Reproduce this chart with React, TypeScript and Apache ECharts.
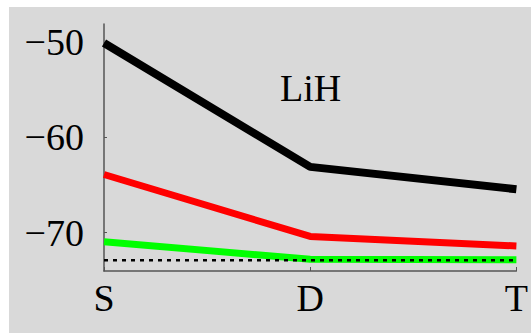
import React, { useEffect, useRef } from "react";
import * as echarts from "echarts";

const categories = ["S", "D", "T"];
const blackSeries = [-50.1, -63.1, -65.45];
const redSeries = [-63.9, -70.4, -71.4];
const greenSeries = [-70.95, -72.8, -72.85];
const dottedSeries = [-72.9, -72.9, -72.9];
const yTicks = [-70, -60, -50];
const label = "LiH";

const FONT = "'Liberation Serif', serif";

export default function App() {
  const ref = useRef<HTMLDivElement>(null);
  useEffect(() => {
    if (!ref.current) return;
    const chart = echarts.init(ref.current, undefined, { renderer: "svg" });
    chart.setOption({
      animation: false,
      backgroundColor: "#ffffff",
      textStyle: { fontFamily: FONT },
      graphic: [
        {
          type: "rect",
          z: -10,
          shape: { x: 9, y: 7, width: 522, height: 326 },
          style: { fill: "#d9d9d9" },
          silent: true,
        },
        {
          type: "text",
          left: 280,
          top: 69,
          style: { text: label, fontFamily: FONT, fontSize: 38, fill: "#000" },
        },
      ],
      grid: { left: 104, right: 12, top: 24, bottom: 62, containLabel: false },
      xAxis: {
        type: "category",
        data: categories,
        boundaryGap: false,
        axisLine: { lineStyle: { color: "#555", width: 1.5 } },
        axisTick: { inside: true, length: 4, lineStyle: { color: "#555" } },
        axisLabel: { color: "#000", fontFamily: FONT, fontSize: 38, margin: 8 },
        splitLine: { show: false },
      },
      yAxis: {
        type: "value",
        min: -74.03,
        max: -48.1,
        axisLine: { show: true, lineStyle: { color: "#555", width: 1.5 } },
        axisTick: { show: true, inside: true, length: 3, customValues: yTicks, lineStyle: { color: "#555" } },
        axisLabel: {
          customValues: yTicks,
          color: "#000",
          fontFamily: FONT,
          fontSize: 38,
          margin: 20,
          formatter: (v: number) => String(v).replace("-", "\u2212"),
        },
        splitLine: { show: false },
      },
      series: [
        {
          type: "line",
          data: greenSeries,
          symbol: "none",
          lineStyle: { color: "#00ff00", width: 7 },
        },
        {
          type: "line",
          data: dottedSeries,
          symbol: "none",
          lineStyle: { color: "#000", width: 2.5, type: [4, 5] },
        },
        {
          type: "line",
          data: redSeries,
          symbol: "none",
          lineStyle: { color: "#ff0000", width: 7 },
        },
        {
          type: "line",
          data: blackSeries,
          symbol: "none",
          lineStyle: { color: "#000", width: 8 },
        },
      ],
    });
    return () => chart.dispose();
  }, []);
  return (
    <div
      ref={ref}
      style={{ position: "fixed", left: 0, top: 0, width: 531, height: 333 }}
    />
  );
}
